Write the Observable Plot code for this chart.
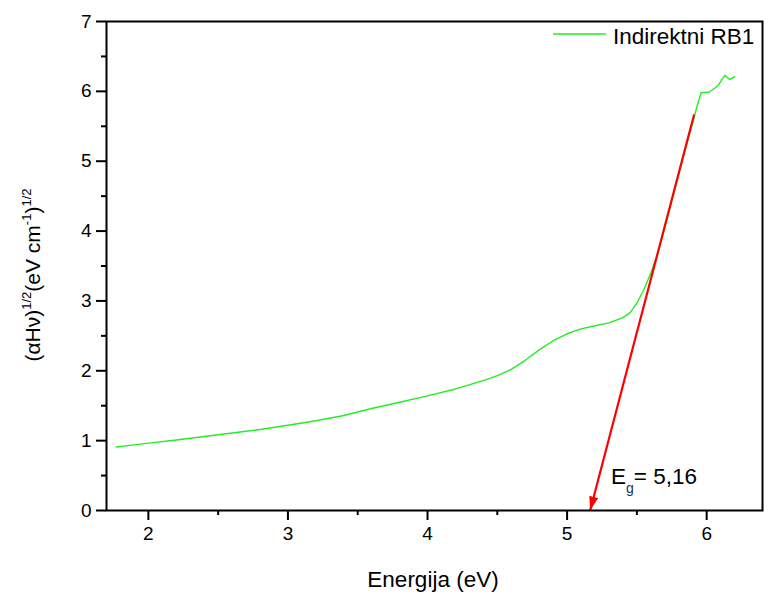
<!DOCTYPE html>
<html>
<head>
<meta charset="utf-8">
<script src="https://cdn.jsdelivr.net/npm/d3@7"></script>
<script src="https://cdn.jsdelivr.net/npm/@observablehq/plot@0.6"></script>
<style>
  html, body { margin: 0; padding: 0; background: #fff; }
  #chart { position: relative; width: 772px; height: 596px; }
</style>
</head>
<body>
<div id="chart"></div>
<script>
// Curve: Energija (eV) vs (αHν)^1/2
const energy = [1.77, 1.9, 2.0, 2.2, 2.4, 2.6, 2.8, 3.0, 3.2, 3.4, 3.6, 3.8, 4.0, 4.2, 4.4, 4.5, 4.6, 4.7, 4.8, 4.9, 5.0, 5.1, 5.2, 5.3, 5.4, 5.45, 5.5, 5.55, 5.6, 5.65, 5.7, 5.75, 5.8, 5.85, 5.9, 5.93, 5.96, 6.02, 6.08, 6.13, 6.165, 6.2];
const absorb = [0.91, 0.94, 0.965, 1.01, 1.06, 1.11, 1.16, 1.22, 1.285, 1.36, 1.46, 1.55, 1.64, 1.74, 1.86, 1.93, 2.02, 2.15, 2.30, 2.43, 2.53, 2.60, 2.645, 2.685, 2.76, 2.83, 2.97, 3.16, 3.40, 3.68, 4.05, 4.43, 4.81, 5.19, 5.55, 5.78, 5.98, 5.99, 6.08, 6.23, 6.17, 6.21];
// Linear fit (tangent) arrow: start -> end at Eg
const fitX = [5.91, 5.165];
const fitY = [5.67, 0];
const seriesName = "Indirektni RB1";
const egLabel = "5,16";
const xTicks = [2, 3, 4, 5, 6];
const xMinor = [2.5, 3.5, 4.5, 5.5];
const yTicks = [0, 1, 2, 3, 4, 5, 6, 7];
const yMinor = [0.5, 1.5, 2.5, 3.5, 4.5, 5.5, 6.5];

const data = energy.map((e, i) => ({x: e, y: absorb[i]}));
const fit = [{x1: fitX[0], y1: fitY[0], x2: fitX[1], y2: fitY[1]}];

const GREEN = "#22ee22";
const FONT = "'Liberation Sans', Arial, sans-serif";

const plot = Plot.plot({
  width: 772,
  height: 596,
  marginTop: 21,
  marginRight: 10,
  marginBottom: 86,
  marginLeft: 106,
  style: {fontFamily: FONT, background: "#fff", color: "#000"},
  x: {domain: [1.7, 6.4]},
  y: {domain: [0, 7]},
  marks: [
    Plot.line(data, {x: "x", y: "y", stroke: GREEN, strokeWidth: 1.4}),
    Plot.link(fit, {x1: "x1", y1: "y1", x2: "x2", y2: "y2", stroke: "#ff0000", strokeWidth: 2.2, markerEnd: "arrow"}),
    Plot.axisX({ticks: xTicks, tickSize: 10, tickPadding: 6, strokeWidth: 2, fontSize: 19, label: null, tickFormat: d => String(d)}),
    Plot.axisX({ticks: xMinor, tickSize: 5, strokeWidth: 2, tickFormat: () => "", label: null}),
    Plot.axisY({ticks: yTicks, tickSize: 10, tickPadding: 5, strokeWidth: 2, fontSize: 19, label: null, tickFormat: d => String(d)}),
    Plot.axisY({ticks: yMinor, tickSize: 5, strokeWidth: 2, tickFormat: () => "", label: null}),
    Plot.frame({stroke: "#000", strokeWidth: 2})
  ]
});

// Filled arrowhead
plot.querySelectorAll("marker").forEach(m => {
  m.setAttribute("markerUnits", "userSpaceOnUse");
  m.setAttribute("viewBox", "-14 -4.5 14 9");
  m.setAttribute("markerWidth", "14");
  m.setAttribute("markerHeight", "9");
  m.setAttribute("refX", "0");
  m.setAttribute("refY", "0");
  m.setAttribute("fill", "#ff0000");
  m.setAttribute("stroke", "none");
  m.innerHTML = '<path d="M-14,-4.5L0,0L-14,4.5Z" fill="#ff0000" stroke="none"></path>';
});

const svg = d3.select(plot);

// X axis label
svg.append("text")
  .attr("x", 433).attr("y", 587)
  .attr("text-anchor", "middle")
  .attr("font-family", FONT).attr("font-size", 22.5)
  .text("Energija (eV)");

// Y axis label with superscripts
const yl = svg.append("text")
  .attr("transform", "translate(40,275) rotate(-90)")
  .attr("text-anchor", "middle")
  .attr("font-family", FONT).attr("font-size", 21);
yl.append("tspan").text("(αHν)");
yl.append("tspan").attr("font-size", 13).attr("dy", -9).text("1/2");
yl.append("tspan").attr("dy", 9).text("(eV cm");
yl.append("tspan").attr("font-size", 13).attr("dy", -9).text("-1");
yl.append("tspan").attr("dy", 9).text(")");
yl.append("tspan").attr("font-size", 13).attr("dy", -9).text("1/2");

// Eg annotation
const eg = svg.append("text")
  .attr("x", 611).attr("y", 484)
  .attr("text-anchor", "start")
  .attr("font-family", FONT).attr("font-size", 22.5);
eg.append("tspan").text("E");
eg.append("tspan").attr("font-size", 14).attr("dy", 9).attr("fill", "#1b2a66").text("g");
eg.append("tspan").attr("dy", -9).text("= " + egLabel);

// Legend
svg.append("line")
  .attr("x1", 553).attr("x2", 606).attr("y1", 34).attr("y2", 34)
  .attr("stroke", GREEN).attr("stroke-width", 1.4);
svg.append("text")
  .attr("x", 613).attr("y", 44)
  .attr("text-anchor", "start")
  .attr("font-family", FONT).attr("font-size", 22.5)
  .text(seriesName);

document.getElementById("chart").appendChild(plot);
</script>
</body>
</html>
